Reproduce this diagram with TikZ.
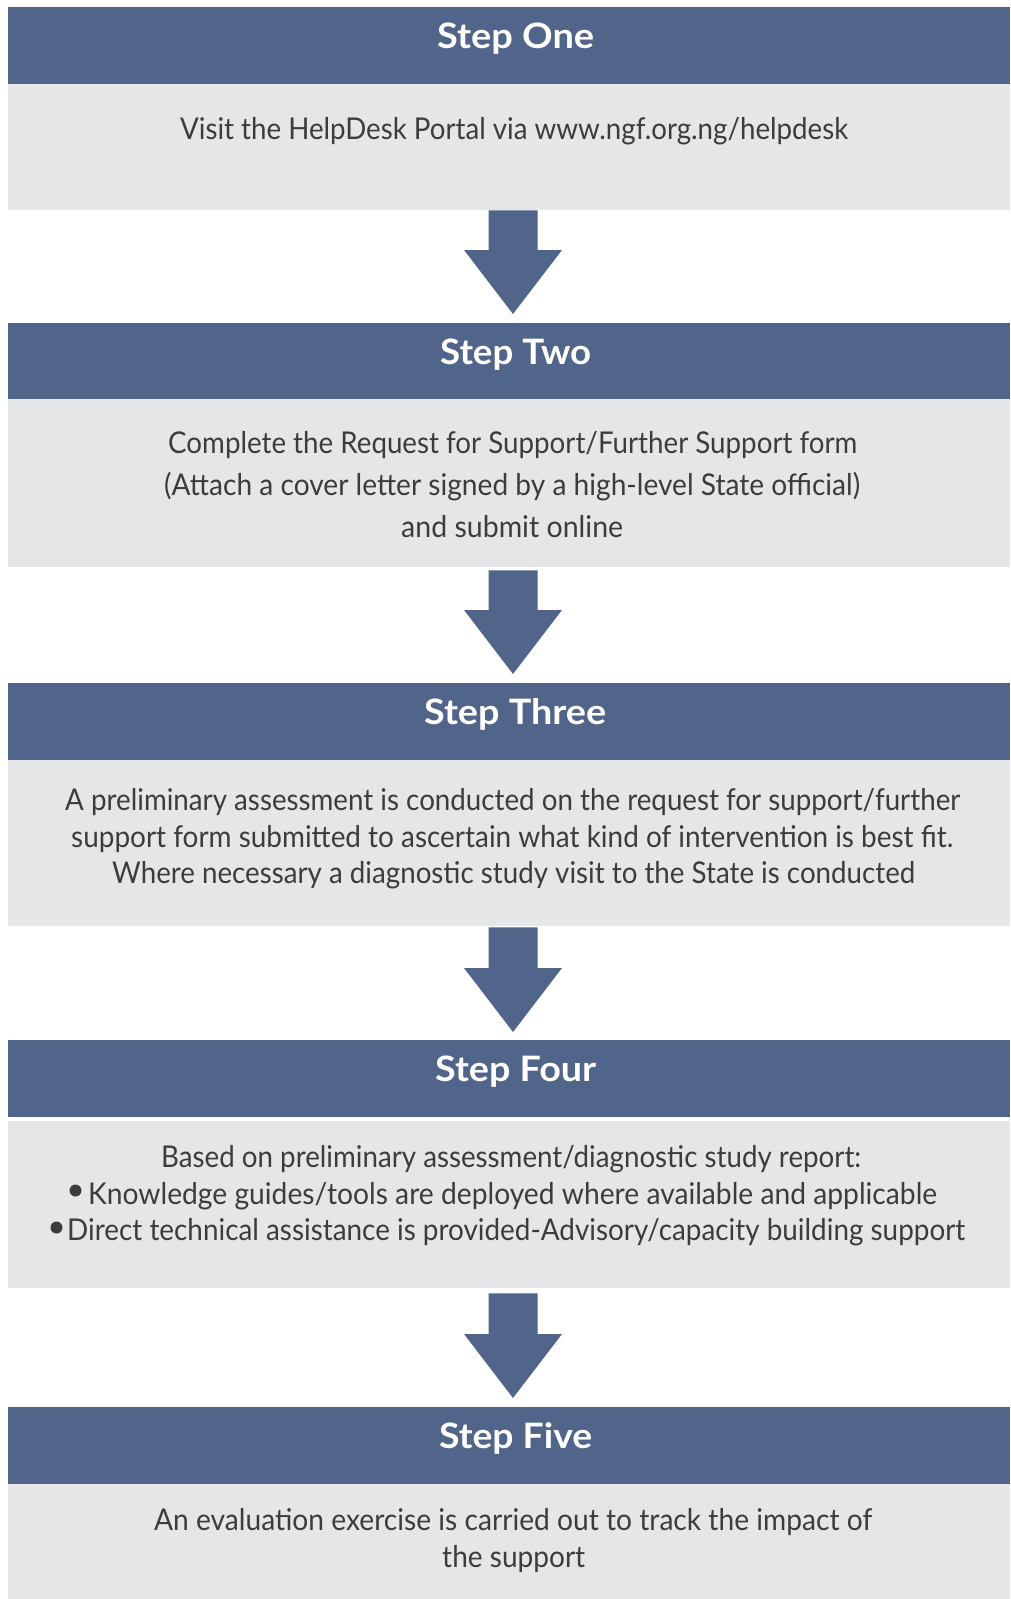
\documentclass[tikz,border=0pt]{standalone}
\usepackage{fontspec}
\usepackage{graphicx}
\setmainfont{Lato}
\usetikzlibrary{calc}

\definecolor{hdrblue}{RGB}{81,101,138}
\definecolor{panelgrey}{RGB}{229,230,232}
\definecolor{inkgrey}{RGB}{60,60,60}

% Set a line of text so that it spans exactly #1 (in pt) horizontally
\newcommand\fitline[2]{%
  \setbox0=\hbox{#2}%
  \pgfmathsetmacro\fitratio{#1/(\the\wd0)}%
  \scalebox{\fitratio}[1]{\box0}}

\tikzset{
  header/.style={rectangle, fill=hdrblue, anchor=north west, inner sep=0pt,
    minimum width=1002pt, draw=none},
  panel/.style={rectangle, fill=panelgrey, anchor=north west, inner sep=0pt,
    minimum width=1002pt, draw=none},
  title/.style={anchor=base west, inner sep=0pt, text=white,
    font=\fontsize{35}{40}\selectfont\bfseries},
  body/.style={anchor=base west, inner sep=0pt, text=inkgrey,
    font=\fontsize{30}{36}\selectfont},
  bulletdot/.style={circle, fill=inkgrey, minimum size=12pt, inner sep=0pt},
  flowarrow/.style={fill=hdrblue, draw=none}
}

% Block arrow from the coordinate #1 (top of shaft) down to #2 (tip)
\newcommand\blockarrow[2]{%
  \fill[flowarrow] let \p1=(#1), \p2=(#2) in
    (\x1-24.5pt,\y1) -- (\x1+24.5pt,\y1) -- (\x1+24.5pt,\y2+64pt)
    -- (\x1+49pt,\y2+64pt) -- (\x2,\y2) -- (\x1-49pt,\y2+64pt)
    -- (\x1-24.5pt,\y2+64pt) -- cycle;}

\begin{document}
\begin{tikzpicture}[x=1pt,y=-1pt]
\useasboundingbox (0,0) rectangle (1010,1599);
\fill[white] (0,0) rectangle (1010,1599);

% ---- Step One
\node[header, minimum height=77pt] (h1) at (8,7) {};
\node[panel, minimum height=126pt] (p1) at (8,84) {};
\node[title] (t1) at (437,48) {\fitline{157}{Step One}};
\node[body] (s1a) at (180,139) {\fitline{668}{Visit the HelpDesk Portal via www.ngf.org.ng/helpdesk}};

% ---- Step Two
\node[header, minimum height=76pt] (h2) at (8,323) {};
\node[panel, minimum height=168pt] (p2) at (8,399) {};
\node[title] (t2) at (440,364) {\fitline{151}{Step Two}};
\node[body] (s2a) at (168,453) {\fitline{689}{Complete the Request for Support/Further Support form}};
\node[body] (s2b) at (164,495) {\fitline{696}{(Attach a cover letter signed by a high-level State official)}};
\node[body] (s2c) at (401,537) {\fitline{222}{and submit online}};

% ---- Step Three
\node[header, minimum height=77pt] (h3) at (8,683) {};
\node[panel, minimum height=166pt] (p3) at (8,760) {};
\node[title] (t3) at (424,724) {\fitline{182}{Step Three}};
\node[body] (s3a) at (65,810) {\fitline{895}{A preliminary assessment is conducted on the request for support/further}};
\node[body] (s3b) at (71,847) {\fitline{882}{support form submitted to ascertain what kind of intervention is best fit.}};
\node[body] (s3c) at (112,883) {\fitline{803}{Where necessary a diagnostic study visit to the State is conducted}};

% ---- Step Four
\node[header, minimum height=77pt] (h4) at (8,1040) {};
\node[panel, minimum height=167pt] (p4) at (8,1121) {};
\node[title] (t4) at (435,1081) {\fitline{161}{Step Four}};
\node[body] (s4a) at (161,1167) {\fitline{700}{Based on preliminary assessment/diagnostic study report:}};
\node[bulletdot] (d4b) at (75.5,1190.5) {};
\node[body] (s4b) at (88,1204) {\fitline{849}{Knowledge guides/tools are deployed where available and applicable}};
\node[bulletdot] (d4c) at (56.5,1227.5) {};
\node[body] (s4c) at (67,1240) {\fitline{898}{Direct technical assistance is provided-Advisory/capacity building support}};

% ---- Step Five
\node[header, minimum height=77pt] (h5) at (8,1407) {};
\node[panel, minimum height=115pt] (p5) at (8,1484) {};
\node[title] (t5) at (439,1448) {\fitline{153}{Step Five}};
\node[body] (s5a) at (154,1530) {\fitline{718}{An evaluation exercise is carried out to track the impact of}};
\node[body] (s5b) at (442,1567) {\fitline{143}{the support}};

% ---- Arrows between the steps
\coordinate (a1top) at ($(p1.south west)+(505,0)$);
\coordinate (a1tip) at ($(h2.north west)+(505,-9)$);
\coordinate (a2top) at ($(p2.south west)+(505,3)$);
\coordinate (a2tip) at ($(h3.north west)+(505,-9)$);
\coordinate (a3top) at ($(p3.south west)+(505,1)$);
\coordinate (a3tip) at ($(h4.north west)+(505,-8)$);
\coordinate (a4top) at ($(p4.south west)+(505,5)$);
\coordinate (a4tip) at ($(h5.north west)+(505,-9)$);
\blockarrow{a1top}{a1tip}
\blockarrow{a2top}{a2tip}
\blockarrow{a3top}{a3tip}
\blockarrow{a4top}{a4tip}
\end{tikzpicture}
\end{document}
